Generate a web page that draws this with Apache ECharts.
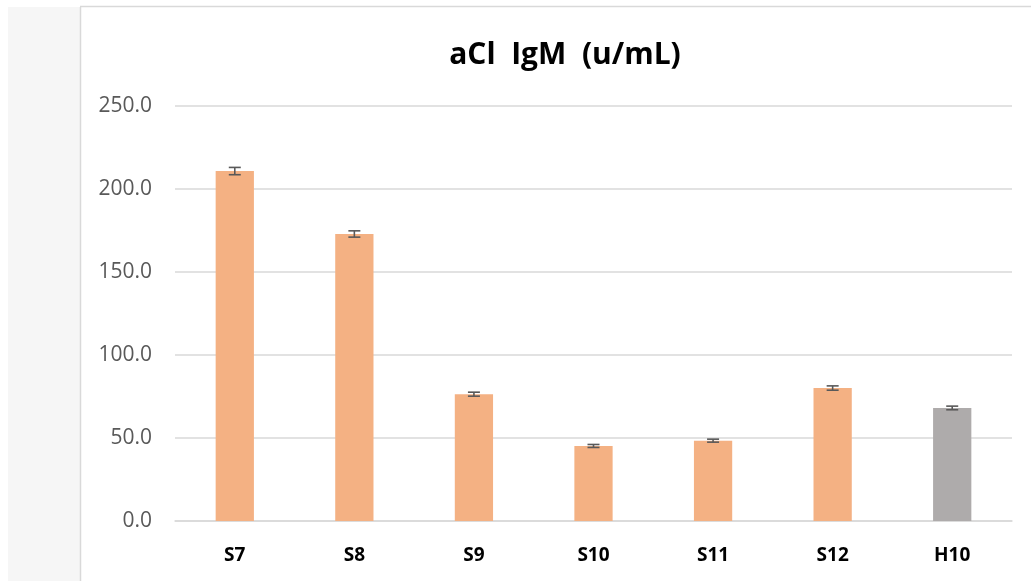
<!DOCTYPE html>
<html><head><meta charset="utf-8">
<script src="https://cdn.jsdelivr.net/npm/echarts@6/dist/echarts.min.js"></script>
<style>html,body{margin:0;padding:0;background:#fff}#c{width:1031px;height:581px}</style>
</head><body><div id="c"></div>
<script>
const categories = ['S7','S8','S9','S10','S11','S12','H10'];
const values = [210.8, 172.9, 76.4, 45.2, 48.4, 80.1, 68.1];
const errors = [2.2, 1.9, 1.2, 0.9, 0.9, 1.3, 1.1];
const barColors = ['#f4b183','#f4b183','#f4b183','#f4b183','#f4b183','#f4b183','#aeabab'];
const yTicks = [0, 50, 100, 150, 200, 250];

const chart = echarts.init(document.getElementById('c'), null, {renderer:'canvas'});
const font = '"Open Sans", "Liberation Sans", sans-serif';
chart.setOption({
  animation: false,
  backgroundColor: '#fff',
  graphic: [
    {type:'rect', left: 8, top: 7, shape:{width:72, height:574}, style:{fill:'#f6f6f6'}, z:-10},
    {type:'line', shape:{x1:80.5, y1:7, x2:80.5, y2:581}, style:{stroke:'#d9d9d9', lineWidth:1.5}, z:-5},
    {type:'line', shape:{x1:80, y1:6.5, x2:1031, y2:6.5}, style:{stroke:'#d9d9d9', lineWidth:1.5}, z:-5}
  ],
  title: {
    text: 'aCl  IgM  (u/mL)', left: 560, top: 35, textAlign: 'center',
    textStyle: {fontFamily: font, fontWeight: 'bold', fontSize: 30, color: '#000'}
  },
  grid: {left: 175, right: 19, top: 106, bottom: 60},
  xAxis: {
    type: 'category', data: categories,
    axisLine: {show: true, lineStyle: {color: '#d9d9d9', width: 1.5}},
    axisTick: {show: false},
    axisLabel: {fontFamily: font, fontWeight: 'bold', fontSize: 19, color: '#000', margin: 25}
  },
  yAxis: {
    type: 'value', min: yTicks[0], max: yTicks[yTicks.length-1], interval: 50,
    axisLine: {show: false}, axisTick: {show: false},
    splitLine: {lineStyle: {color: '#d9d9d9', width: 1.5}},
    axisLabel: {fontFamily: font, fontSize: 21, color: '#595959', margin: 23,
      formatter: v => v.toFixed(1)}
  },
  series: [
    {
      type: 'bar', barWidth: '32%',
      data: values.map((v, i) => ({value: v, itemStyle: {color: barColors[i]}})),
      z: 2
    },
    {
      type: 'custom', z: 3,
      data: values.map((v, i) => [i, v - errors[i], v + errors[i]]),
      renderItem: function (params, api) {
        const lo = api.coord([api.value(0), api.value(1)]);
        const hi = api.coord([api.value(0), api.value(2)]);
        const x = lo[0], hw = 6;
        const st = {stroke: '#595959', lineWidth: 1.6};
        return {type: 'group', children: [
          {type: 'line', shape: {x1: x, y1: lo[1], x2: x, y2: hi[1]}, style: st},
          {type: 'line', shape: {x1: x - hw, y1: lo[1], x2: x + hw, y2: lo[1]}, style: st},
          {type: 'line', shape: {x1: x - hw, y1: hi[1], x2: x + hw, y2: hi[1]}, style: st}
        ]};
      }
    }
  ]
});
</script></body></html>
